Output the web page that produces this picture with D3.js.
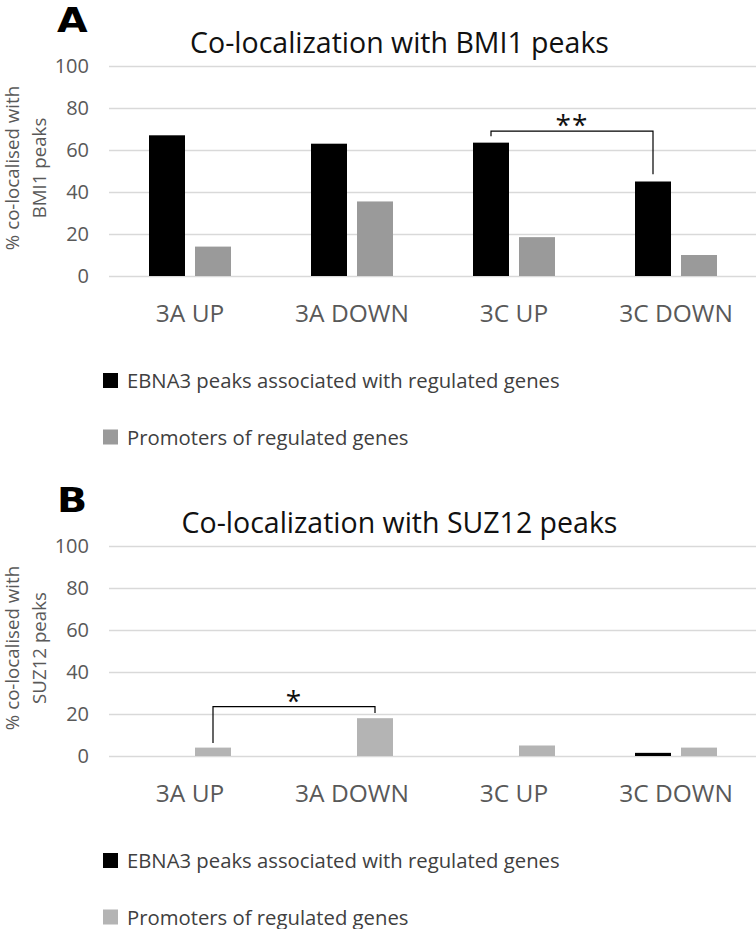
<!DOCTYPE html>
<html>
<head>
<meta charset="utf-8">
<script src="https://d3js.org/d3.v7.min.js"></script>
<style>
  body { margin: 0; background: #fff; }
  text { font-family: "Open Sans", "Noto Sans", sans-serif; }
</style>
</head>
<body>
<div id="chart"></div>
<script>
// values (percent)
var categories = ["3A UP", "3A DOWN", "3C UP", "3C DOWN"];
var seriesNames = ["EBNA3 peaks associated with regulated genes", "Promoters of regulated genes"];
var yTicks = [0, 20, 40, 60, 80, 100];

var bmi1Ebna3 = [67, 63, 63.5, 45];
var bmi1Promoters = [14, 35.5, 18.5, 10];
var suz12Ebna3 = [0, 0, 0, 1.5];
var suz12Promoters = [4, 18, 5, 4];

// significance brackets: which bars, leg ends and top in data units
var bmi1Bracket = {from: "3C UP", to: "3C DOWN", series: 0, left: 66.5, right: 48.5, top: 69, label: "**"};
var suz12Bracket = {from: "3A UP", to: "3A DOWN", series: 1, left: 6.2, right: 20.5, top: 23.5, label: "*"};

var W = 756, H = 929;
var svg = d3.select("#chart").append("svg")
  .attr("width", W).attr("height", H);

function drawPanel(off, letter, title, ytitle, ebna3, promoters, greyCol, bracket) {
  var g = svg.append("g").attr("transform", "translate(0," + off + ")");

  var x = d3.scaleBand().domain(categories).range([109, 757]);
  var xs = d3.scaleBand().domain([0, 1]).range([-41, 41]).paddingInner(10 / 46);
  var y = d3.scaleLinear().domain([0, 100]).range([276, 66]);
  var cols = ["#000000", greyCol];

  // gridlines + tick labels
  var ya = g.append("g").attr("transform", "translate(109,0)")
    .call(d3.axisLeft(y).tickValues(yTicks).tickSize(-648).tickPadding(20));
  ya.select(".domain").remove();
  ya.selectAll("line").attr("stroke", "#d9d9d9").attr("stroke-width", 1.6);
  ya.selectAll("text").attr("fill", "#595959").style("font-size", "20px")
    .style("font-family", "'Open Sans', sans-serif");

  // category labels
  var xa = g.append("g").attr("transform", "translate(0,276)")
    .call(d3.axisBottom(x).tickSize(0));
  xa.select(".domain").remove();
  xa.selectAll("text").attr("y", 46).attr("dy", 0).attr("fill", "#595959")
    .style("font-size", "24.5px").style("font-family", "'Open Sans', sans-serif");

  var rows = categories.map(function(c, i) { return {cat: c, vals: [ebna3[i], promoters[i]]}; });
  var grp = g.selectAll(".grp").data(rows).enter().append("g")
    .attr("transform", function(d) { return "translate(" + (x(d.cat) + x.bandwidth() / 2) + ",0)"; });
  grp.selectAll("rect").data(function(d) { return d.vals; }).enter().append("rect")
    .attr("x", function(d, i) { return xs(i); })
    .attr("width", xs.bandwidth())
    .attr("y", function(d) { return y(d); })
    .attr("height", function(d) { return y(0) - y(d); })
    .attr("fill", function(d, i) { return cols[i]; });

  // bracket
  var bx1 = x(bracket.from) + x.bandwidth() / 2 + xs(bracket.series) + xs.bandwidth() / 2;
  var bx2 = x(bracket.to) + x.bandwidth() / 2 + xs(bracket.series) + xs.bandwidth() / 2;
  g.append("path")
    .attr("d", "M" + bx1 + "," + y(bracket.left) + "V" + y(bracket.top) + "H" + bx2 + "V" + y(bracket.right))
    .attr("fill", "none").attr("stroke", "#000").attr("stroke-width", 1.2);
  g.append("text").attr("x", (bx1 + bx2) / 2).attr("y", y(bracket.top) + 4)
    .attr("text-anchor", "middle").style("font-size", "28px").attr("fill", "#111")
    .style("letter-spacing", "1px")
    .text(bracket.label);

  // title and panel letter
  g.append("text").attr("x", 399.5).attr("y", 53).attr("text-anchor", "middle")
    .style("font-size", "28.5px").attr("fill", "#111").text(title);
  g.append("text").attr("transform", "translate(57,32) scale(1.2,1)")
    .style("font-family", "'DejaVu Sans', sans-serif").style("font-weight", "bold")
    .style("font-size", "33px").attr("fill", "#000").text(letter);

  // y axis title, two lines
  var yt = g.append("g").attr("transform", "translate(0,168) rotate(-90)");
  yt.selectAll("text").data(ytitle).enter().append("text")
    .attr("x", 0).attr("y", function(d, i) { return 19 + i * 27; })
    .attr("text-anchor", "middle").attr("fill", "#595959").style("font-size", "18.7px")
    .text(function(d) { return d; });

  // legend
  var lg = g.selectAll(".leg").data(seriesNames).enter().append("g")
    .attr("transform", function(d, i) { return "translate(103," + (373 + i * 56.5) + ")"; });
  lg.append("rect").attr("width", 15).attr("height", 15)
    .attr("fill", function(d, i) { return cols[i]; });
  lg.append("text").attr("x", 24).attr("y", 15).attr("fill", "#404040")
    .style("font-size", "20.3px").text(function(d) { return d; });
}

drawPanel(0, "A", "Co-localization with BMI1 peaks", ["% co-localised with", "BMI1 peaks"],
  bmi1Ebna3, bmi1Promoters, "#9a9a9a", bmi1Bracket);
drawPanel(480, "B", "Co-localization with SUZ12 peaks", ["% co-localised with", "SUZ12 peaks"],
  suz12Ebna3, suz12Promoters, "#b4b4b4", suz12Bracket);
</script>
</body>
</html>
